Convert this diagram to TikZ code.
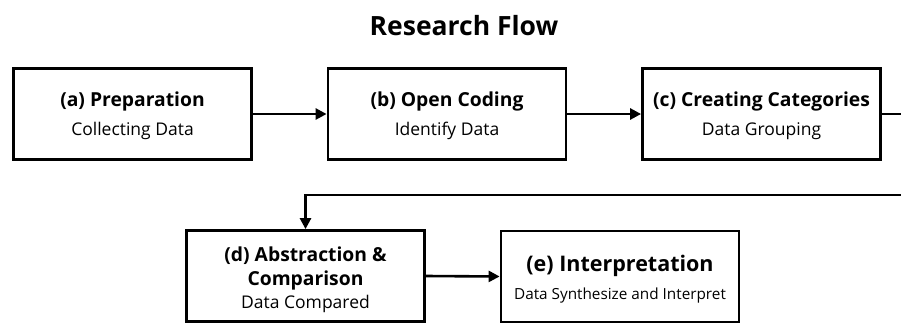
\documentclass[tikz,border=0pt]{standalone}
\usepackage{fontspec}
\setmainfont{Open Sans}
\usetikzlibrary{arrows.meta}

\begin{document}
\begin{tikzpicture}[x=1pt,y=1pt,
    stage/.style={draw=black,line width=2.8pt,minimum width=238pt,minimum height=91pt,
      align=center,inner sep=0pt,font=\fontsize{17.5}{21}\selectfont},
    flow/.style={line width=2.6pt,-{Triangle[length=11pt,width=11pt]}}]
    \useasboundingbox (0,0) rectangle (901,325);
    \clip (0,0) rectangle (901,325);

    \node[anchor=base,font=\fontsize{26.5}{30}\selectfont\bfseries] (title) at (464,290) {Research Flow};

    % top row
    \node[stage] (prep) at (132.5,211)
      {\rule{0pt}{18pt}{\fontsize{19.3}{21}\selectfont\bfseries (a) Preparation}\\[8pt]Collecting Data};
    \node[stage] (coding) at (447,211)
      {\rule{0pt}{18pt}{\fontsize{19.3}{21}\selectfont\bfseries (b) Open Coding}\\[8pt]Identify Data};
    \node[stage] (categ) at (761.5,211)
      {\rule{0pt}{18pt}{\fontsize{19.3}{21}\selectfont\bfseries (c) Creating Categories}\\[8pt]Data Grouping};

    % bottom row
    \node[stage] (abstr) at (305.5,49)
      {\rule{0pt}{22pt}{\fontsize{19.3}{21}\selectfont\bfseries (d) Abstraction \&}\\[3pt]
       {\fontsize{19.3}{21}\selectfont\bfseries Comparison}\\[2pt]Data Compared};
    \node[stage] (interp) at (620,48.5)
      {\rule{0pt}{22.5pt}{\fontsize{21.5}{24}\selectfont\bfseries (e) Interpretation}\\[7pt]
       {\fontsize{15.3}{18}\selectfont Data Synthesize and Interpret}};

    \coordinate (wrap) at (920,130);

    \draw[flow] (prep.east) -- (coding.west);
    \draw[flow] (coding.east) -- (categ.west);
    \draw[flow] (categ.east) -| (wrap) -| (abstr.north);
    \draw[flow] (abstr.east) -- (interp.west);
\end{tikzpicture}
\end{document}
